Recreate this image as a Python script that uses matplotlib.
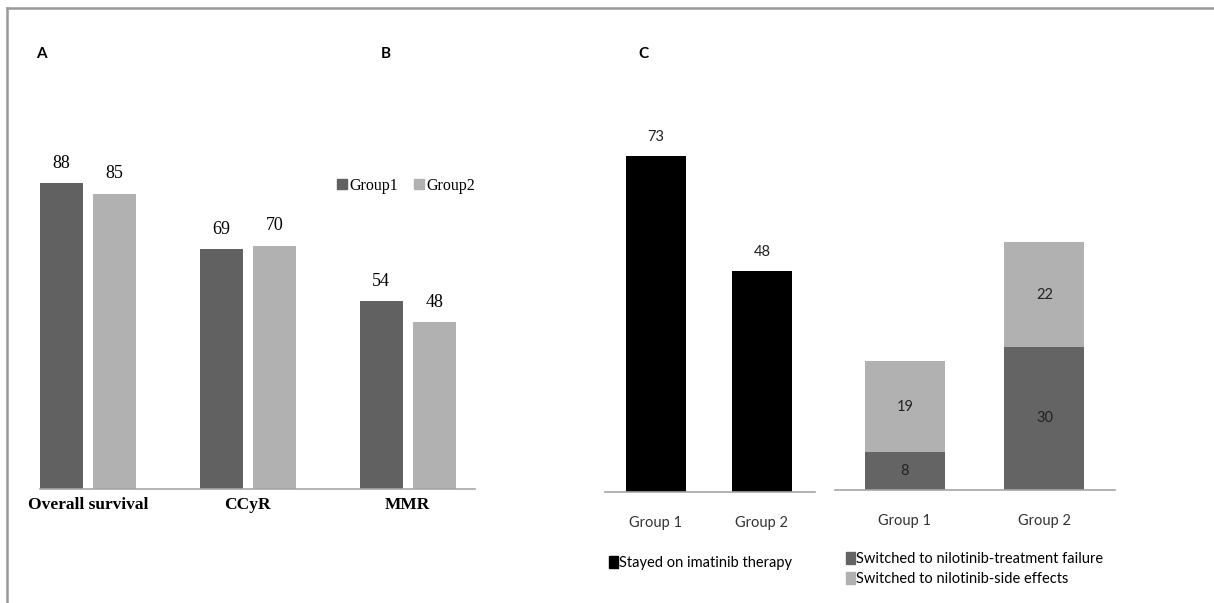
import numpy as np
import matplotlib
matplotlib.use('Agg')
import matplotlib.pyplot as plt
from matplotlib.lines import Line2D
from matplotlib.patches import Patch

# panel A/B : outcomes by group
outcomes = ['Overall survival', 'CCyR', 'MMR']
group1_vals = [88, 69, 54]
group2_vals = [85, 70, 48]
ab_legend = ['Group1', 'Group2']

# panel C left : stayed on imatinib
c_groups = ['Group 1', 'Group 2']
stayed_vals = [73, 48]
stayed_label = 'Stayed on imatinib therapy'

# panel C right : switched to nilotinib (stacked)
fail_vals = [8, 30]
side_vals = [19, 22]
switch_labels = ['Switched to nilotinib-treatment failure',
                 'Switched to nilotinib-side effects']

dark = '#616161'
light = '#b1b1b1'
axis_col = '#a6a6a6'
W, H = 1214, 603

def px_axes(fig, x0, x1, ytop, ybase):
    return fig.add_axes([x0 / W, 1 - ybase / H, (x1 - x0) / W, (ybase - ytop) / H])

def clean(ax):
    for s in ['top', 'right', 'left']:
        ax.spines[s].set_visible(False)
    ax.spines['bottom'].set_color(axis_col)
    ax.spines['bottom'].set_linewidth(1.2)
    ax.set_yticks([])
    ax.tick_params(axis='x', length=0)

fig = plt.figure(figsize=(W / 100, H / 100), dpi=100)

serif = 'Liberation Serif'
sans = 'Lato'

# ---- panel A/B
ax1 = px_axes(fig, 40, 475, 100, 489)
x = np.arange(len(outcomes))
off, bw = 0.167, 0.269
b1 = ax1.bar(x - off, group1_vals, bw, color=dark)
b2 = ax1.bar(x + off, group2_vals, bw, color=light)
for bars in (b1, b2):
    for r in bars:
        ax1.annotate('%d' % r.get_height(), (r.get_x() + r.get_width() / 2, r.get_height()),
                     xytext=(0, 14.5), textcoords='offset points', ha='center', va='center',
                     fontsize=13, family=serif)
ax1.set_xlim(-0.3, 2.42)
ax1.set_ylim(0, 112)
ax1.set_xticks(x)
ax1.set_xticklabels(outcomes, fontsize=12.5, fontweight='bold', family=serif)
ax1.tick_params(axis='x', pad=6)
clean(ax1)
fig.legend([Patch(color=dark), Patch(color=light)], ab_legend, loc='center',
           bbox_to_anchor=(406 / W, 1 - 186 / H), ncol=2, frameon=False,
           handlelength=0.6, handleheight=0.6, handletextpad=0.15, columnspacing=1.0,
           borderpad=0, borderaxespad=0, prop={'family': serif, 'size': 11.5})

# ---- panel C left
ax2 = px_axes(fig, 605, 815, 100, 492)
xc = np.arange(len(c_groups))
bars = ax2.bar(xc, stayed_vals, 0.566, color='black')
for r in bars:
    ax2.annotate('%d' % r.get_height(), (r.get_x() + r.get_width() / 2, r.get_height()),
                 xytext=(0, 13.7), textcoords='offset points', ha='center', va='center',
                 fontsize=10.5, family=sans, color='#222222')
ax2.set_xlim(-0.48, 1.5)
ax2.set_ylim(0, 85.2)
ax2.set_xticks(xc)
ax2.set_xticklabels(c_groups, fontsize=10.5, family=sans, color='#333333')
ax2.tick_params(axis='x', pad=17)
clean(ax2)
fig.legend([Patch(color='black')], [stayed_label], loc='center left',
           bbox_to_anchor=(609 / W, 1 - 563 / H), frameon=False,
           handlelength=0.6, handleheight=0.9, handletextpad=0.1,
           borderpad=0, borderaxespad=0, prop={'family': sans, 'size': 10.5})

# ---- panel C right
ax3 = px_axes(fig, 835, 1115, 100, 490)
s1 = ax3.bar(xc, fail_vals, 0.573, color='#646464')
s2 = ax3.bar(xc, side_vals, 0.573, bottom=fail_vals, color=light)
for bars in (s1, s2):
    for r in bars:
        ax3.text(r.get_x() + r.get_width() / 2, r.get_y() + r.get_height() / 2,
                 '%d' % r.get_height(), ha='center', va='center',
                 fontsize=10.5, family=sans, color='#222222')
ax3.set_xlim(-0.5, 1.505)
ax3.set_ylim(0, 81.8)
ax3.set_xticks(xc)
ax3.set_xticklabels(c_groups, fontsize=10.5, family=sans, color='#333333')
ax3.tick_params(axis='x', pad=17)
clean(ax3)
fig.legend([Patch(color='#646464'), Patch(color=light)], switch_labels, loc='center left',
           bbox_to_anchor=(846 / W, 1 - 569 / H), frameon=False,
           handlelength=0.6, handleheight=0.9, handletextpad=0.1, labelspacing=0.45,
           borderpad=0, borderaxespad=0, prop={'family': sans, 'size': 10.5})

# panel letters
for lab, px in [('A', 41), ('B', 386), ('C', 643)]:
    fig.text(px / W, 1 - 54 / H, lab, ha='center', va='center',
             fontsize=11, fontweight='bold', family=sans)

# outer frame (top and left only)
fig.add_artist(Line2D([7 / W, 1], [1 - 8 / H, 1 - 8 / H], color='#9a9a9a', lw=1.8,
                      transform=fig.transFigure))
fig.add_artist(Line2D([7 / W, 7 / W], [0, 1 - 8 / H], color='#9a9a9a', lw=1.8,
                      transform=fig.transFigure))

fig.savefig('out.png', dpi=100)
